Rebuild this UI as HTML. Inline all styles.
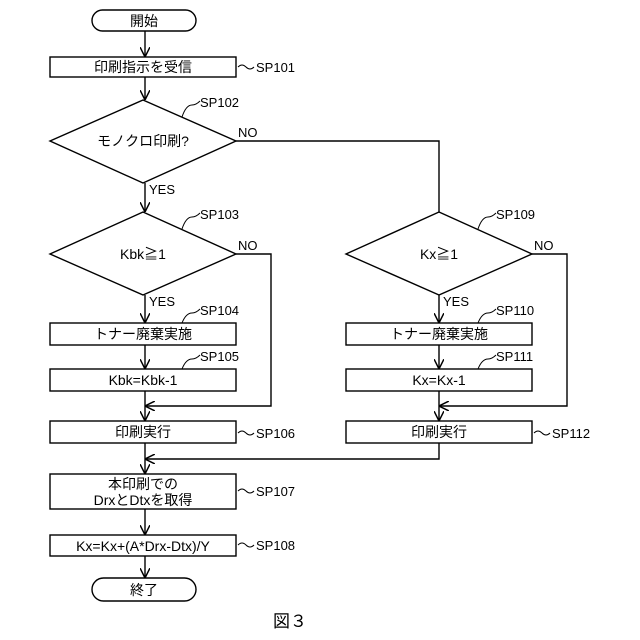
<!DOCTYPE html>
<html><head><meta charset="utf-8"><style>body{margin:0;background:#fff}svg{display:block}text{font-family:"Liberation Sans","Noto Sans CJK JP",sans-serif;fill:#000}</style></head><body>
<svg width="640" height="640" viewBox="0 0 640 640" xmlns="http://www.w3.org/2000/svg">
<defs><marker id="a" viewBox="0 0 10 10" refX="10" refY="5" markerWidth="7" markerHeight="7" orient="auto"><path d="M0,0 L10,5 L0,10" fill="none" stroke="#000" stroke-width="1.5"/></marker></defs>
<g fill="none" stroke="#000" stroke-width="1.4">
<rect x="92" y="10" width="104" height="21" rx="10.5"/>
<rect x="50" y="57" width="186" height="20"/>
<polygon points="143,100 236,141 143,183 50,141"/>
<polygon points="143,212 236,254 143,295 50,254"/>
<polygon points="439,212 532,254 439,295 346,254"/>
<rect x="50" y="323" width="186" height="22"/>
<rect x="50" y="369" width="186" height="22"/>
<rect x="50" y="421" width="186" height="22"/>
<rect x="50" y="474" width="186" height="35"/>
<rect x="50" y="535" width="186" height="21"/>
<rect x="92" y="578" width="104" height="23" rx="11.5"/>
<rect x="346" y="323" width="186" height="22"/>
<rect x="346" y="369" width="186" height="22"/>
<rect x="346" y="421" width="186" height="22"/>
<line x1="145" y1="31" x2="145" y2="57" marker-end="url(#a)"/>
<line x1="145" y1="77" x2="145" y2="100" marker-end="url(#a)"/>
<line x1="145" y1="183" x2="145" y2="212" marker-end="url(#a)"/>
<line x1="145" y1="295" x2="145" y2="323" marker-end="url(#a)"/>
<line x1="145" y1="345" x2="145" y2="369" marker-end="url(#a)"/>
<line x1="145" y1="391" x2="145" y2="421" marker-end="url(#a)"/>
<line x1="145" y1="443" x2="145" y2="474" marker-end="url(#a)"/>
<line x1="145" y1="509" x2="145" y2="535" marker-end="url(#a)"/>
<line x1="145" y1="556" x2="145" y2="578" marker-end="url(#a)"/>
<polyline points="236,141 439,141 439,212"/>
<polyline points="236,254 271,254 271,406 145,406" marker-end="url(#a)"/>
<line x1="439" y1="295" x2="439" y2="323" marker-end="url(#a)"/>
<line x1="439" y1="345" x2="439" y2="369" marker-end="url(#a)"/>
<line x1="439" y1="391" x2="439" y2="421" marker-end="url(#a)"/>
<polyline points="532,254 567,254 567,406 439,406" marker-end="url(#a)"/>
<polyline points="439,443 439,459 145,459" marker-end="url(#a)"/>
<g stroke-width="1">
<path d="M238,67 q4,-4 8,0 t8,0"/>
<path d="M238,433 q4,-4 8,0 t8,0"/>
<path d="M238,491 q4,-4 8,0 t8,0"/>
<path d="M238,545 q4,-4 8,0 t8,0"/>
<path d="M534,433 q4,-4 8,0 t8,0"/>
<path d="M182,117 q4,-12 10,-12 q4,0 8,-4"/>
<path d="M182,229 q4,-12 10,-12 q4,0 8,-4"/>
<path d="M478,229 q4,-12 10,-12 q4,0 8,-4"/>
<path d="M182,323 q4,-10 10,-10 q4,0 8,-4"/>
<path d="M182,369 q4,-10 10,-10 q4,0 8,-4"/>
<path d="M478,323 q4,-10 10,-10 q4,0 8,-4"/>
<path d="M478,369 q4,-10 10,-10 q4,0 8,-4"/>
</g>
</g>
<g font-size="14" text-anchor="middle">
<text x="144" y="26">開始</text>
<text x="143" y="72">印刷指示を受信</text>
<text x="143" y="146">モノクロ印刷?</text>
<text x="143" y="259">Kbk≧1</text>
<text x="439" y="259">Kx≧1</text>
<text x="143" y="339">トナー廃棄実施</text>
<text x="143" y="385">Kbk=Kbk-1</text>
<text x="143" y="437">印刷実行</text>
<text x="143" y="489">本印刷での</text>
<text x="143" y="505">DrxとDtxを取得</text>
<text x="143" y="551">Kx=Kx+(A*Drx-Dtx)/Y</text>
<text x="144" y="595">終了</text>
<text x="439" y="339">トナー廃棄実施</text>
<text x="439" y="385">Kx=Kx-1</text>
<text x="439" y="437">印刷実行</text>
<text x="290" y="627" font-size="17">図３</text>
</g>
<g font-size="13">
<text x="256" y="72">SP101</text>
<text x="200" y="107">SP102</text>
<text x="200" y="219">SP103</text>
<text x="200" y="315">SP104</text>
<text x="200" y="361">SP105</text>
<text x="256" y="438">SP106</text>
<text x="256" y="496">SP107</text>
<text x="256" y="550">SP108</text>
<text x="496" y="219">SP109</text>
<text x="496" y="315">SP110</text>
<text x="496" y="361">SP111</text>
<text x="552" y="438">SP112</text>
<text x="238" y="137">NO</text>
<text x="238" y="250">NO</text>
<text x="534" y="250">NO</text>
<text x="149" y="194">YES</text>
<text x="149" y="306">YES</text>
<text x="443" y="306">YES</text>
</g>
</svg>
</body></html>
